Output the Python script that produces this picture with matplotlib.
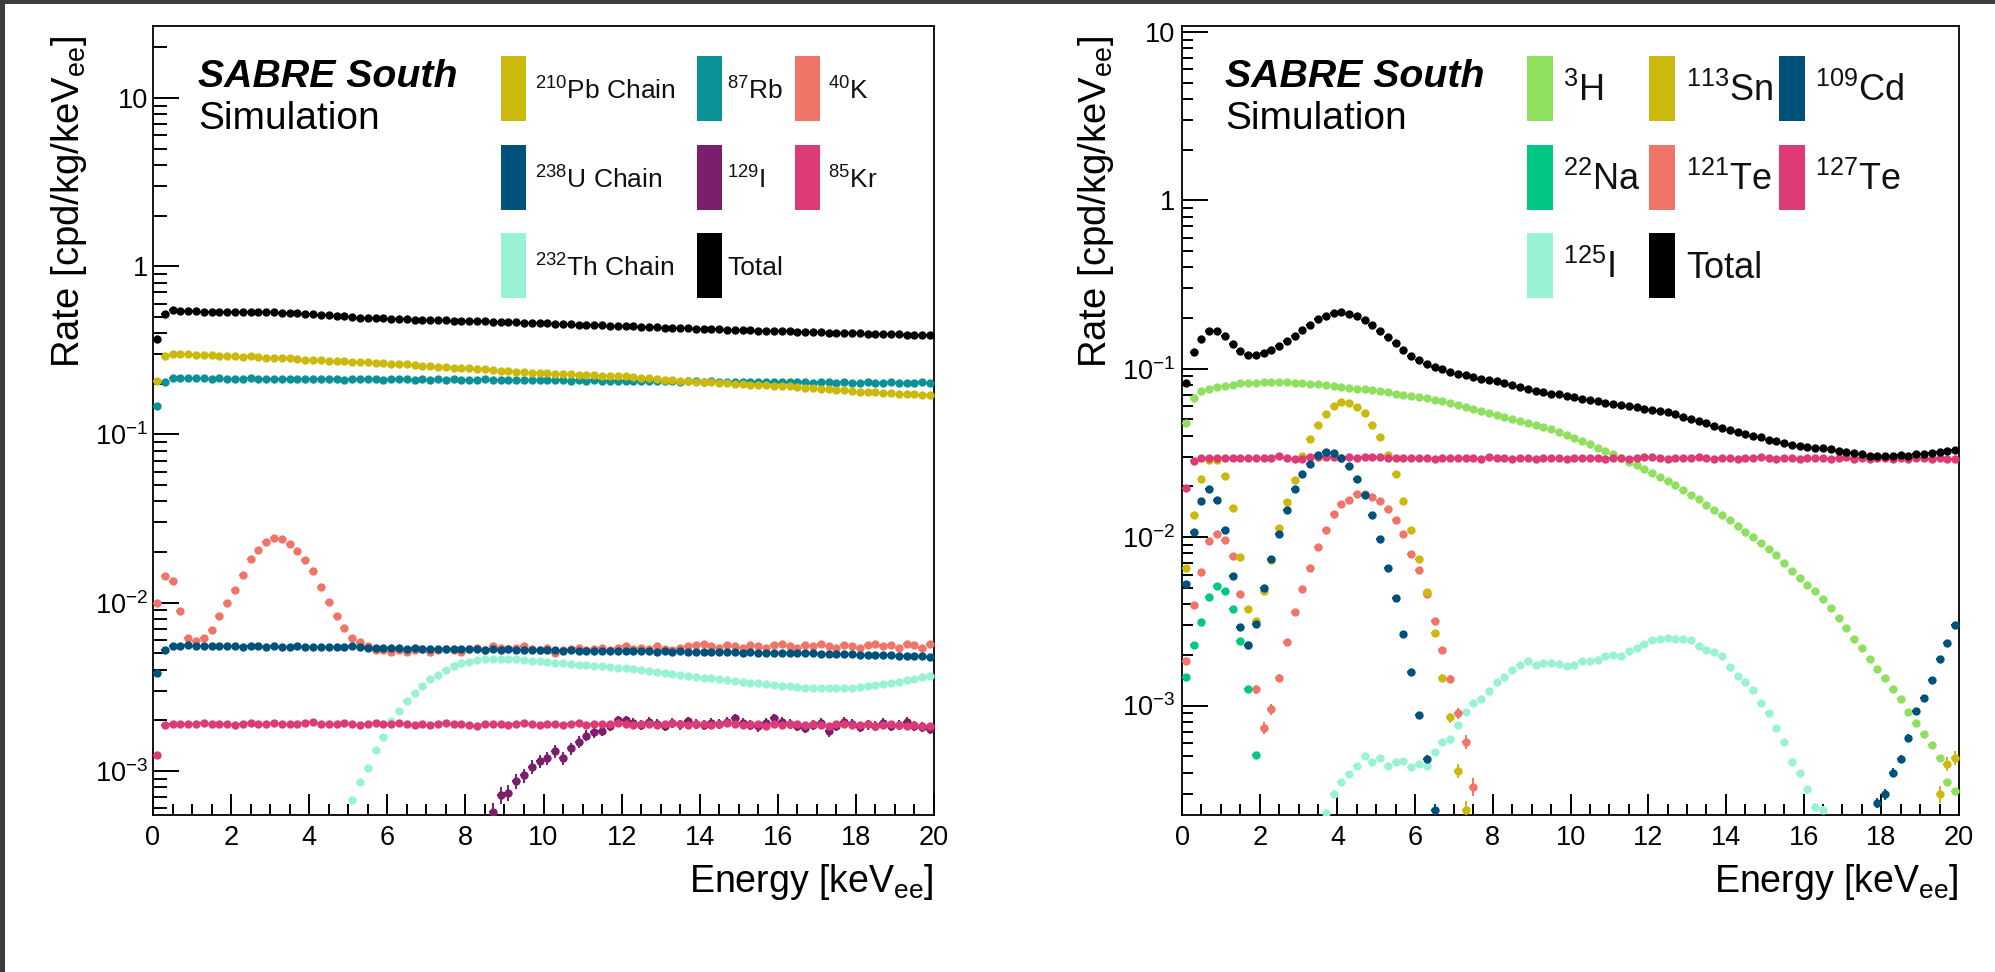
import numpy as np
import matplotlib
matplotlib.use("Agg")
import matplotlib.pyplot as plt
from matplotlib.patches import Rectangle
from matplotlib.ticker import FuncFormatter, NullFormatter, MultipleLocator, LogLocator

nan = float("nan")

# ---------------- data ----------------
bin_edges = np.linspace(0, 20, 101)          # 0.2 keV bins
energy = 0.5 * (bin_edges[:-1] + bin_edges[1:])

# ---- left panel (intrinsic) ----
total_L = [
0.370, 0.520, 0.547, 0.545, 0.540, 0.541, 0.538, 0.536, 0.538, 0.535,
0.534, 0.536, 0.533, 0.532, 0.534, 0.531, 0.530, 0.528, 0.527, 0.522,
0.518, 0.515, 0.512, 0.508, 0.505, 0.497, 0.492, 0.491, 0.490, 0.491,
0.489, 0.488, 0.484, 0.481, 0.480, 0.479, 0.478, 0.476, 0.475, 0.474,
0.473, 0.471, 0.470, 0.469, 0.468, 0.466, 0.464, 0.463, 0.461, 0.459,
0.458, 0.456, 0.455, 0.452, 0.450, 0.449, 0.447, 0.446, 0.444, 0.442,
0.441, 0.439, 0.438, 0.436, 0.434, 0.432, 0.431, 0.429, 0.427, 0.426,
0.425, 0.423, 0.421, 0.420, 0.418, 0.418, 0.416, 0.415, 0.413, 0.412,
0.411, 0.410, 0.408, 0.407, 0.405, 0.404, 0.403, 0.403, 0.401, 0.400,
0.399, 0.398, 0.396, 0.395, 0.393, 0.394, 0.392, 0.390, 0.389, 0.388]

pb210 = [
0.207, 0.292, 0.300, 0.301, 0.300, 0.297, 0.295, 0.296, 0.294, 0.292,
0.292, 0.290, 0.291, 0.288, 0.286, 0.285, 0.284, 0.283, 0.281, 0.279,
0.277, 0.276, 0.275, 0.273, 0.272, 0.271, 0.270, 0.268, 0.266, 0.265,
0.264, 0.262, 0.261, 0.259, 0.257, 0.255, 0.253, 0.251, 0.249, 0.248,
0.247, 0.245, 0.244, 0.242, 0.240, 0.238, 0.236, 0.235, 0.233, 0.232,
0.231, 0.230, 0.229, 0.228, 0.227, 0.226, 0.225, 0.224, 0.223, 0.222,
0.222, 0.220, 0.218, 0.216, 0.214, 0.212, 0.211, 0.209, 0.207, 0.206,
0.205, 0.204, 0.203, 0.201, 0.200, 0.199, 0.198, 0.197, 0.196, 0.195,
0.194, 0.193, 0.191, 0.190, 0.189, 0.187, 0.186, 0.184, 0.183, 0.181,
0.180, 0.179, 0.178, 0.177, 0.176, 0.175, 0.174, 0.173, 0.172, 0.171]

rb87 = [
0.147, 0.206, 0.216, 0.217, 0.216, 0.217, 0.216, 0.215, 0.216, 0.215,
0.214, 0.215, 0.216, 0.214, 0.215, 0.214, 0.213, 0.215, 0.214, 0.214,
0.213, 0.215, 0.214, 0.213, 0.212, 0.214, 0.213, 0.214, 0.213, 0.212,
0.213, 0.214, 0.213, 0.212, 0.213, 0.211, 0.213, 0.212, 0.213, 0.212,
0.212, 0.211, 0.213, 0.212, 0.211, 0.212, 0.211, 0.212, 0.210, 0.211,
0.211, 0.210, 0.211, 0.209, 0.210, 0.209, 0.210, 0.208, 0.209, 0.209,
0.208, 0.209, 0.208, 0.207, 0.208, 0.207, 0.208, 0.206, 0.207, 0.207,
0.206, 0.207, 0.206, 0.205, 0.206, 0.205, 0.206, 0.205, 0.204, 0.205,
0.205, 0.204, 0.205, 0.204, 0.203, 0.204, 0.204, 0.203, 0.204, 0.203,
0.203, 0.204, 0.202, 0.203, 0.204, 0.203, 0.202, 0.203, 0.204, 0.203]

u238 = [
0.00383, 0.00520, 0.00552, 0.00556, 0.00558, 0.00554, 0.00552, 0.00555, 0.00551, 0.00550,
0.00552, 0.00549, 0.00551, 0.00550, 0.00548, 0.00551, 0.00549, 0.00547, 0.00550, 0.00548,
0.00549, 0.00547, 0.00549, 0.00546, 0.00548, 0.00552, 0.00546, 0.00541, 0.00538, 0.00536,
0.00535, 0.00537, 0.00533, 0.00535, 0.00532, 0.00534, 0.00531, 0.00532, 0.00529, 0.00531,
0.00528, 0.00530, 0.00526, 0.00528, 0.00525, 0.00527, 0.00523, 0.00525, 0.00522, 0.00521,
0.00520, 0.00522, 0.00518, 0.00520, 0.00517, 0.00519, 0.00516, 0.00518, 0.00515, 0.00517,
0.00514, 0.00516, 0.00513, 0.00515, 0.00512, 0.00514, 0.00511, 0.00513, 0.00510, 0.00511,
0.00510, 0.00508, 0.00509, 0.00506, 0.00508, 0.00505, 0.00506, 0.00503, 0.00505, 0.00502,
0.00503, 0.00500, 0.00502, 0.00499, 0.00500, 0.00497, 0.00498, 0.00495, 0.00496, 0.00493,
0.00492, 0.00490, 0.00491, 0.00488, 0.00487, 0.00485, 0.00484, 0.00481, 0.00479, 0.00476]

k40 = [
0.0100, 0.0145, 0.0134, 0.0089, 0.0062, 0.0059, 0.0062, 0.0069, 0.0083, 0.0099,
0.0119, 0.0147, 0.0181, 0.0205, 0.0229, 0.0243, 0.0240, 0.0222, 0.0202, 0.0180,
0.0154, 0.0124, 0.0101, 0.0083, 0.0071, 0.0062, 0.0058, 0.0055, 0.0052, 0.0052,
0.0051, 0.0052, 0.0051, 0.0052, 0.0053, 0.0051, 0.0052, 0.0053, 0.0052, 0.0051,
0.0053, 0.0054, 0.0052, 0.0055, 0.0054, 0.0053, 0.0054, 0.0055, 0.0053, 0.0052,
0.0054, 0.0050, 0.0052, 0.0053, 0.0054, 0.0052, 0.0053, 0.0054, 0.0052, 0.0054,
0.0055, 0.0053, 0.0054, 0.0053, 0.0055, 0.0053, 0.0052, 0.0054, 0.0055, 0.0056,
0.0057, 0.0055, 0.0054, 0.0056, 0.0055, 0.0054, 0.0056, 0.0055, 0.0054, 0.0056,
0.0057, 0.0055, 0.0054, 0.0056, 0.0055, 0.0057, 0.0055, 0.0054, 0.0056, 0.0055,
0.0054, 0.0056, 0.0057, 0.0055, 0.0056, 0.0054, 0.0057, 0.0056, 0.0054, 0.0057]

th232 = [nan] * 25 + [
6.7e-4, 8.6e-4, 1.04e-3, 1.33e-3, 1.60e-3,
1.97e-3, 2.26e-3, 2.59e-3, 2.90e-3, 3.20e-3, 3.50e-3, 3.73e-3, 3.98e-3, 4.20e-3, 4.36e-3,
4.46e-3, 4.54e-3, 4.60e-3, 4.62e-3, 4.63e-3, 4.62e-3, 4.60e-3, 4.56e-3, 4.52e-3, 4.48e-3,
4.44e-3, 4.41e-3, 4.37e-3, 4.33e-3, 4.29e-3, 4.25e-3, 4.21e-3, 4.18e-3, 4.14e-3, 4.11e-3,
4.07e-3, 4.03e-3, 3.98e-3, 3.93e-3, 3.88e-3, 3.83e-3, 3.78e-3, 3.73e-3, 3.68e-3, 3.63e-3,
3.59e-3, 3.55e-3, 3.51e-3, 3.47e-3, 3.43e-3, 3.39e-3, 3.35e-3, 3.31e-3, 3.27e-3, 3.24e-3,
3.21e-3, 3.18e-3, 3.15e-3, 3.13e-3, 3.11e-3, 3.10e-3, 3.09e-3, 3.09e-3, 3.10e-3, 3.12e-3,
3.15e-3, 3.18e-3, 3.22e-3, 3.27e-3, 3.32e-3, 3.38e-3, 3.45e-3, 3.52e-3, 3.60e-3, 3.68e-3]

i129 = [nan] * 43 + [
5.7e-4, 7.2e-4, 7.4e-4, 8.7e-4, 9.4e-4, 1.06e-3, 1.14e-3,
1.19e-3, 1.31e-3, 1.19e-3, 1.36e-3, 1.49e-3, 1.62e-3, 1.70e-3, 1.73e-3, 1.85e-3, 2.00e-3,
2.00e-3, 1.92e-3, 1.88e-3, 1.95e-3, 1.90e-3, 1.86e-3, 1.93e-3, 1.89e-3, 1.97e-3, 1.91e-3,
1.87e-3, 1.94e-3, 1.90e-3, 1.96e-3, 2.05e-3, 1.93e-3, 1.88e-3, 1.84e-3, 1.92e-3, 2.05e-3,
1.95e-3, 1.90e-3, 1.86e-3, 1.80e-3, 1.88e-3, 1.93e-3, 1.72e-3, 1.85e-3, 1.96e-3, 1.90e-3,
1.83e-3, 1.89e-3, 1.86e-3, 1.92e-3, 1.85e-3, 1.88e-3, 1.95e-3, 1.86e-3, 1.82e-3, 1.78e-3]

kr85 = [
1.24e-3, 1.87e-3, 1.90e-3, 1.91e-3, 1.89e-3, 1.90e-3, 1.92e-3, 1.89e-3, 1.90e-3, 1.91e-3,
1.88e-3, 1.90e-3, 1.92e-3, 1.89e-3, 1.91e-3, 1.93e-3, 1.90e-3, 1.89e-3, 1.91e-3, 1.92e-3,
1.95e-3, 1.90e-3, 1.91e-3, 1.89e-3, 1.92e-3, 1.90e-3, 1.88e-3, 1.91e-3, 1.93e-3, 1.90e-3,
1.89e-3, 1.92e-3, 1.90e-3, 1.88e-3, 1.91e-3, 1.87e-3, 1.90e-3, 1.92e-3, 1.89e-3, 1.90e-3,
1.88e-3, 1.86e-3, 1.89e-3, 1.91e-3, 1.90e-3, 1.87e-3, 1.89e-3, 1.92e-3, 1.90e-3, 1.88e-3,
1.91e-3, 1.89e-3, 1.87e-3, 1.90e-3, 1.92e-3, 1.88e-3, 1.90e-3, 1.89e-3, 1.91e-3, 1.93e-3,
1.90e-3, 1.88e-3, 1.91e-3, 1.89e-3, 1.87e-3, 1.90e-3, 1.92e-3, 1.89e-3, 1.88e-3, 1.91e-3,
1.90e-3, 1.87e-3, 1.89e-3, 1.92e-3, 1.90e-3, 1.88e-3, 1.91e-3, 1.89e-3, 1.86e-3, 1.90e-3,
1.88e-3, 1.91e-3, 1.89e-3, 1.87e-3, 1.90e-3, 1.88e-3, 1.86e-3, 1.89e-3, 1.91e-3, 1.88e-3,
1.87e-3, 1.89e-3, 1.86e-3, 1.88e-3, 1.90e-3, 1.87e-3, 1.85e-3, 1.88e-3, 1.86e-3, 1.85e-3]

# ---- right panel (cosmogenic) ----
total_R = [
0.082, 0.126, 0.150, 0.167, 0.168, 0.157, 0.140, 0.128, 0.120, 0.120,
0.124, 0.129, 0.137, 0.146, 0.157, 0.169, 0.183, 0.198, 0.207, 0.213,
0.216, 0.212, 0.205, 0.196, 0.183, 0.168, 0.154, 0.142, 0.129, 0.119,
0.112, 0.107, 0.1025, 0.0993, 0.0953, 0.0927, 0.0915, 0.089, 0.087, 0.0855,
0.0843, 0.082, 0.080, 0.078, 0.076, 0.074, 0.0725, 0.071, 0.0705, 0.069,
0.068, 0.0665, 0.065, 0.064, 0.063, 0.062, 0.061, 0.060, 0.059, 0.058,
0.057, 0.056, 0.055, 0.054, 0.052, 0.0505, 0.049, 0.0475, 0.046, 0.0445,
0.0435, 0.042, 0.041, 0.040, 0.0395, 0.038, 0.037, 0.036, 0.0355, 0.035,
0.0345, 0.034, 0.0338, 0.0332, 0.0325, 0.032, 0.0316, 0.031, 0.0305, 0.0303,
0.0305, 0.0302, 0.0308, 0.0305, 0.031, 0.0312, 0.0315, 0.032, 0.0325, 0.033]

h3 = [
0.0477, 0.0671, 0.0735, 0.0763, 0.0780, 0.0795, 0.0805, 0.0820, 0.0820, 0.0820,
0.0832, 0.0832, 0.0832, 0.0830, 0.0826, 0.0820, 0.0815, 0.0810, 0.0798, 0.0790,
0.0780, 0.0770, 0.0763, 0.0756, 0.0749, 0.0735, 0.0725, 0.0713, 0.0703, 0.0690,
0.0680, 0.0668, 0.0655, 0.0641, 0.0625, 0.0607, 0.0592, 0.0575, 0.0560, 0.0544,
0.0530, 0.0515, 0.0505, 0.0490, 0.0478, 0.0465, 0.0452, 0.0437, 0.0422, 0.0406,
0.0390, 0.0374, 0.0357, 0.0340, 0.0326, 0.0310, 0.0295, 0.0281, 0.0268, 0.0255,
0.0241, 0.0228, 0.0215, 0.0203, 0.0191, 0.0179, 0.0168, 0.0156, 0.0145, 0.0135,
0.0126, 0.0117, 0.0108, 0.0100, 0.0092, 0.0085, 0.0078, 0.0070, 0.0063, 0.0057,
0.0052, 0.0048, 0.0043, 0.0038, 0.0033, 0.0029, 0.0025, 0.0022, 0.0019, 0.00165,
0.00145, 0.00125, 0.0011, 0.00092, 0.00079, 0.00068, 0.00058, 0.00049, 0.00035, 0.00031]

na22 = [1.48e-3, 2.28e-3, 3.14e-3, 4.42e-3, 5.12e-3, 4.82e-3, 3.72e-3, 2.41e-3, 1.26e-3, 5.1e-4] + [nan] * 90

i125 = [nan] * 18 + [
2.3e-4, 3.0e-4,
3.5e-4, 3.9e-4, 4.4e-4, 5.0e-4, 4.6e-4, 4.86e-4, 4.4e-4, 4.6e-4, 4.7e-4, 4.3e-4,
4.5e-4, 4.4e-4, 5.3e-4, 6.1e-4, 6.3e-4, 7.7e-4, 9.1e-4, 1.03e-3, 1.10e-3, 1.22e-3,
1.38e-3, 1.48e-3, 1.62e-3, 1.75e-3, 1.84e-3, 1.74e-3, 1.79e-3, 1.79e-3, 1.76e-3, 1.72e-3,
1.75e-3, 1.84e-3, 1.83e-3, 1.86e-3, 1.98e-3, 2.00e-3, 1.96e-3, 2.10e-3, 2.20e-3, 2.33e-3,
2.45e-3, 2.50e-3, 2.52e-3, 2.50e-3, 2.49e-3, 2.46e-3, 2.25e-3, 2.15e-3, 2.08e-3, 1.97e-3,
1.70e-3, 1.50e-3, 1.38e-3, 1.24e-3, 1.04e-3, 9.0e-4, 7.4e-4, 6.1e-4, 4.6e-4, 4.0e-4,
3.2e-4, 2.5e-4, 2.4e-4] + [nan] * 17

sn113 = [
6.6e-3, 1.345e-2, 2.22e-2, 2.86e-2, 2.86e-2, 2.30e-2, 1.49e-2, 7.6e-3, 3.72e-3, 3.17e-3,
4.78e-3, 7.36e-3, 1.135e-2, 1.61e-2, 2.20e-2, 3.05e-2, 3.85e-2, 4.66e-2, 5.40e-2, 5.99e-2,
6.33e-2, 6.27e-2, 5.91e-2, 5.47e-2, 4.62e-2, 3.92e-2, 3.07e-2, 2.38e-2, 1.65e-2, 1.11e-2,
7.46e-3, 4.72e-3, 2.70e-3, 1.46e-3, 8.5e-4, 4.1e-4, 2.4e-4] + [nan] * 60 + [3.0e-4, 4.5e-4, 4.9e-4]

cd109 = [
5.24e-3, 1.075e-2, 1.65e-2, 1.92e-2, 1.66e-2, 1.11e-2, 5.87e-3, 2.94e-3, 2.3e-3, 3.06e-3,
4.96e-3, 7.43e-3, 1.05e-2, 1.45e-2, 1.92e-2, 2.36e-2, 2.72e-2, 3.07e-2, 3.21e-2, 3.14e-2,
2.96e-2, 2.66e-2, 2.23e-2, 1.77e-2, 1.36e-2, 9.7e-3, 6.53e-3, 4.33e-3, 2.67e-3, 1.58e-3,
8.8e-4, 4.8e-4, 2.4e-4] + [nan] * 56 + [
2.65e-4, 2.97e-4, 4.0e-4, 4.8e-4, 6.45e-4, 9.3e-4, 1.11e-3, 1.41e-3, 1.88e-3, 2.36e-3, 3.0e-3]

te121 = [
1.84e-3, 3.98e-3, 6.2e-3, 9.55e-3, 1.05e-2, 9.64e-3, 7.7e-3, 4.61e-3, 2.28e-3, 1.25e-3,
7.4e-4, 9.5e-4, 1.46e-3, 2.39e-3, 3.6e-3, 4.9e-3, 6.6e-3, 8.8e-3, 1.096e-2, 1.364e-2,
1.58e-2, 1.67e-2, 1.81e-2, 1.81e-2, 1.73e-2, 1.64e-2, 1.46e-2, 1.257e-2, 1.05e-2, 7.9e-3,
6.37e-3, 4.57e-3, 3.2e-3, 2.13e-3, 1.44e-3, 9.0e-4, 6.1e-4, 3.3e-4] + [nan] * 62

te127 = [
0.0196, 0.0283, 0.0296, 0.0297, 0.0295, 0.0296, 0.0294, 0.0296, 0.0295, 0.0297,
0.0294, 0.0296, 0.0305, 0.0297, 0.0290, 0.0293, 0.0298, 0.0301, 0.0299, 0.0300,
0.0296, 0.0299, 0.0296, 0.0300, 0.0301, 0.0301, 0.0297, 0.0296, 0.0295, 0.0296,
0.0295, 0.0297, 0.0292, 0.0295, 0.0296, 0.0294, 0.0297, 0.0296, 0.0292, 0.0300,
0.0294, 0.0296, 0.0293, 0.0297, 0.0295, 0.0290, 0.0296, 0.0294, 0.0297, 0.0292,
0.0295, 0.0296, 0.0294, 0.0297, 0.0293, 0.0295, 0.0296, 0.0293, 0.0297, 0.0301,
0.0298, 0.0295, 0.0293, 0.0296, 0.0294, 0.0297, 0.0300, 0.0295, 0.0293, 0.0296,
0.0294, 0.0291, 0.0296, 0.0295, 0.0298, 0.0294, 0.0292, 0.0296, 0.0295, 0.0293,
0.0297, 0.0294, 0.0296, 0.0292, 0.0295, 0.0298, 0.0293, 0.0295, 0.0291, 0.0296,
0.0294, 0.0292, 0.0295, 0.0291, 0.0294, 0.0296, 0.0292, 0.0294, 0.0291, 0.0293]

# colours
C_OLIVE = "#CBB90E"
C_TEAL = "#0B9196"
C_SALMON = "#F07569"
C_NAVY = "#00527A"
C_PURPLE = "#7B1E6D"
C_PINK = "#DC3B75"
C_MINT = "#9AF2D4"
C_LGREEN = "#8FE05F"
C_GREEN = "#00C884"
C_BLACK = "#000000"

# (label, values, colour, error-scale)
left_series = [
    ("$^{210}$Pb Chain", pb210, C_OLIVE, 0.0004),
    ("$^{87}$Rb", rb87, C_TEAL, 0.0004),
    ("$^{40}$K", k40, C_SALMON, 0.0006),
    ("$^{238}$U Chain", u238, C_NAVY, 0.0004),
    ("$^{129}$I", i129, C_PURPLE, 0.003),
    ("$^{85}$Kr", kr85, C_PINK, 0.0005),
    ("$^{232}$Th Chain", th232, C_MINT, 0.0006),
    ("Total", total_L, C_BLACK, 0.0004),
]
right_series = [
    ("$^{3}$H", h3, C_LGREEN, 0.0005),
    ("$^{113}$Sn", sn113, C_OLIVE, 0.002),
    ("$^{109}$Cd", cd109, C_NAVY, 0.0012),
    ("$^{22}$Na", na22, C_GREEN, 0.0008),
    ("$^{121}$Te", te121, C_SALMON, 0.0022),
    ("$^{127}$Te", te127, C_PINK, 0.0005),
    ("$^{125}$I", i125, C_MINT, 0.0008),
    ("Total", total_R, C_BLACK, 0.0004),
]
left_draw_order = [6, 4, 5, 2, 3, 1, 0, 7]
right_draw_order = [6, 3, 4, 1, 0, 5, 2, 7]

# ---------------- style ----------------
plt.rcParams["font.family"] = ["Liberation Sans", "DejaVu Sans"]
plt.rcParams["mathtext.fontset"] = "custom"
plt.rcParams["mathtext.rm"] = "Liberation Sans"
plt.rcParams["mathtext.it"] = "Liberation Sans:italic"
plt.rcParams["mathtext.bf"] = "Liberation Sans:bold"
plt.rcParams["mathtext.default"] = "regular"

W, H = 1995, 972
fig = plt.figure(figsize=(W / 100, H / 100), dpi=100)
fig.patch.set_facecolor("white")


def fx(px):
    return px / W


def fy(py):
    return 1 - py / H


def log_fmt(v, pos):
    e = int(round(np.log10(v)))
    if e == 0:
        return "1"
    if e == 1:
        return "10"
    return "$10^{%d}$" % e


def make_axes(x0, x1, y0, y1, ylim, ymaj_len, ymin_len, ypad):
    ax = fig.add_axes([fx(x0), fy(y1), fx(x1) - fx(x0), fy(y0) - fy(y1)])
    ax.set_yscale("log")
    ax.set_xlim(0, 20)
    ax.set_ylim(*ylim)
    ax.xaxis.set_major_locator(MultipleLocator(2))
    ax.xaxis.set_minor_locator(MultipleLocator(0.5))
    ax.yaxis.set_major_locator(LogLocator(base=10, numticks=20))
    ax.yaxis.set_minor_locator(LogLocator(base=10, subs=np.arange(2, 10), numticks=20))
    ax.yaxis.set_major_formatter(FuncFormatter(log_fmt))
    ax.yaxis.set_minor_formatter(NullFormatter())
    ax.tick_params(which="both", direction="in", top=False, right=False, width=1.4, color="black")
    ax.tick_params(axis="x", which="major", length=15, pad=7, labelsize=19.5)
    ax.tick_params(axis="x", which="minor", length=8)
    ax.tick_params(axis="y", which="major", length=ymaj_len, pad=ypad, labelsize=19.5)
    ax.tick_params(axis="y", which="minor", length=ymin_len)
    for sp in ax.spines.values():
        sp.set_linewidth(1.3)
    return ax


def draw_series(ax, series, order):
    for z, i in enumerate(order):
        label, vals, col, s = series[i]
        y = np.asarray(vals, dtype=float)
        err = s * np.sqrt(np.nan_to_num(y))
        ax.errorbar(energy, y, yerr=err, xerr=0.1, fmt="o", ms=6.0, mew=0,
                    color=col, ecolor=col, elinewidth=1.4, capsize=0,
                    zorder=3 + z)


def draw_legend(series, rect_x, rect_w, text_x, row_c, rect_h, fsize):
    for n, (label, vals, col, s) in enumerate(series):
        r, c = divmod(n, 3)
        fig.add_artist(Rectangle((fx(rect_x[c]), fy(row_c[r] + rect_h / 2)),
                                 rect_w / W, rect_h / H, transform=fig.transFigure,
                                 facecolor=col, edgecolor="none"))
        fig.text(fx(text_x[c]), fy(row_c[r] + 2), label, fontsize=fsize,
                 ha="left", va="center", color="#111111")


# ---- left panel ----
axL = make_axes(153, 934, 26, 815, (5.47e-4, 26.8), 19, 10, 3.6)
draw_series(axL, left_series, left_draw_order)

# ---- right panel ----
axR = make_axes(1182, 1959, 26, 815, (2.24e-4, 10.85), 19, 8, 5.0)
draw_series(axR, right_series, right_draw_order)

# axis titles
for cx, xr in ((69, 934), (1096, 1959)):
    fig.text(fx(cx), fy(36), "Rate [cpd/kg/keV$_{ee}$]", rotation=90,
             ha="center", va="top", fontsize=27.5)
    fig.text(fx(xr), fy(892), "Energy [keV$_{ee}$]", ha="right", va="baseline",
             fontsize=27)

# SABRE South labels
for x0 in (198, 1225):
    fig.text(fx(x0), fy(87), "SABRE South", fontsize=28.3, fontweight="bold",
             fontstyle="italic", ha="left", va="baseline")
    fig.text(fx(x0), fy(129), "Simulation", fontsize=28, ha="left", va="baseline")

rows = [89, 178, 266]
draw_legend(left_series, [501, 697, 795], 25, [535, 727, 828], rows, 65, 19)
draw_legend(right_series, [1527, 1649, 1779], 26, [1563, 1686, 1815], rows, 65, 26)

# dark frame strips of the screenshot
fig.add_artist(Rectangle((0, fy(4)), 1, 4 / H, transform=fig.transFigure,
                         facecolor="#3c3c3c", edgecolor="none"))
fig.add_artist(Rectangle((0, 0), 5 / W, 1, transform=fig.transFigure,
                         facecolor="#3c3c3c", edgecolor="none"))

fig.savefig("out.png", dpi=100)
